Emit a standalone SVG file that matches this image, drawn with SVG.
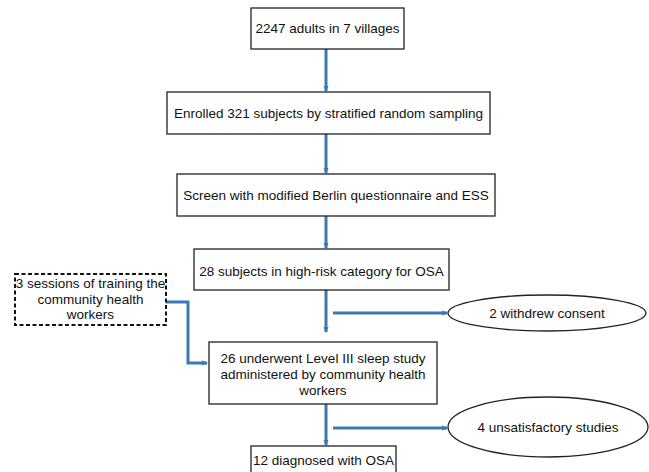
<svg xmlns="http://www.w3.org/2000/svg" width="649" height="472" viewBox="0 0 649 472">
<style>
.box{fill:#fff;stroke:#222;stroke-width:1.3}
.dash{fill:#fff;stroke:#111;stroke-width:2;stroke-dasharray:4 2.5}
.t{font-family:"Liberation Sans",Arial,sans-serif;font-size:13.5px;fill:#111;text-anchor:middle}
.c{fill:none;stroke:#3b78b4;stroke-width:3}
</style>
<defs>
<marker id="ah" markerWidth="6" markerHeight="6" refX="5" refY="3" orient="auto" markerUnits="userSpaceOnUse">
<path d="M0,0.5 L6,3 L0,5.5 z" fill="#3b78b4"/>
</marker>
</defs>
<rect width="649" height="472" fill="#fff"/>
<g id="connectors">
<line class="c" x1="326" y1="49" x2="326" y2="91" marker-end="url(#ah)"/>
<line class="c" x1="326" y1="134" x2="326" y2="173" marker-end="url(#ah)"/>
<line class="c" x1="326" y1="216" x2="326" y2="248" marker-end="url(#ah)"/>
<line class="c" x1="326" y1="290" x2="326" y2="332" marker-end="url(#ah)"/>
<line class="c" x1="326" y1="404" x2="326" y2="445" marker-end="url(#ah)"/>
<line class="c" x1="333" y1="313" x2="447" y2="313" marker-end="url(#ah)"/>
<line class="c" x1="333" y1="428" x2="447" y2="428" marker-end="url(#ah)"/>
<polyline class="c" points="166,302 188,302 188,363 207,363" marker-end="url(#ah)"/>
</g>
<g id="n1">
<rect class="box" x="251" y="8" width="153" height="41"/>
<text class="t" x="327.5" y="33">2247 adults in 7 villages</text>
</g>
<g id="n2">
<rect class="box" x="167" y="92" width="323" height="42"/>
<text class="t" x="328.5" y="118">Enrolled 321 subjects by stratified random sampling</text>
</g>
<g id="n3">
<rect class="box" x="177" y="174" width="318" height="42"/>
<text class="t" x="336" y="200">Screen with modified Berlin questionnaire and ESS</text>
</g>
<g id="n4">
<rect class="box" x="194" y="249" width="255" height="41"/>
<text class="t" x="321.5" y="276">28 subjects in high-risk category for OSA</text>
</g>
<g id="n_training">
<rect class="dash" x="15" y="274" width="151" height="51"/>
<text class="t" x="90.5" y="288">3 sessions of training the</text>
<text class="t" x="90.5" y="303.5">community health</text>
<text class="t" x="90.5" y="319">workers</text>
</g>
<g id="n_withdrew">
<ellipse class="box" cx="547" cy="313" rx="99" ry="18"/>
<text class="t" x="547" y="318">2 withdrew consent</text>
</g>
<g id="n5">
<rect class="box" x="209" y="342" width="228" height="62"/>
<text class="t" x="323" y="363">26 underwent Level III sleep study</text>
<text class="t" x="323" y="379">administered by community health</text>
<text class="t" x="323" y="395">workers</text>
</g>
<g id="n_unsat">
<ellipse class="box" cx="548" cy="427" rx="100" ry="30"/>
<text class="t" x="548" y="432">4 unsatisfactory studies</text>
</g>
<g id="n6">
<rect class="box" x="251" y="446" width="145" height="40"/>
<text class="t" x="323.5" y="465">12 diagnosed with OSA</text>
</g>
</svg>
